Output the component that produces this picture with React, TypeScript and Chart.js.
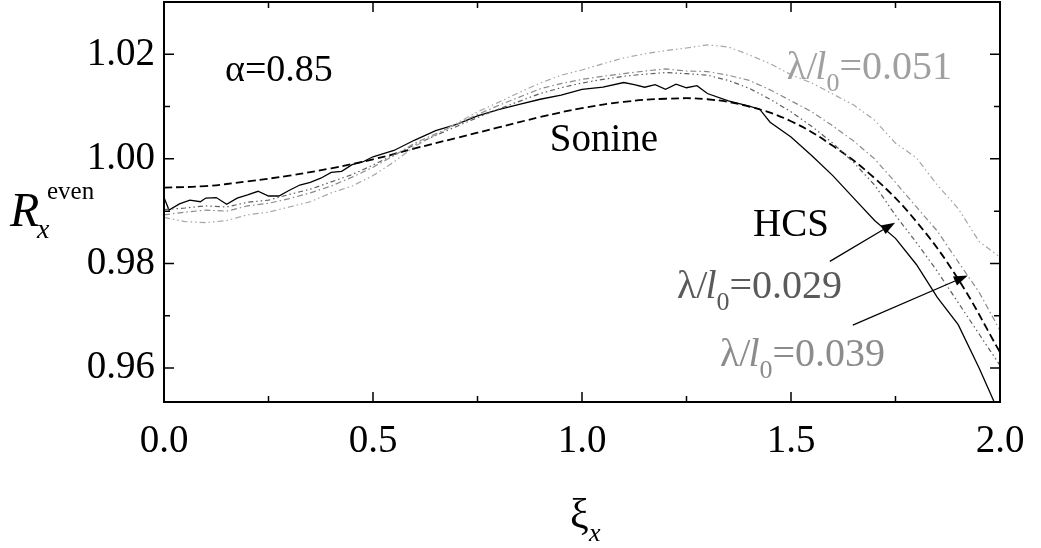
import React, { useEffect, useRef } from 'react';
import { Chart, registerables } from 'chart.js';

Chart.register(...registerables);

const FONT = '"Liberation Serif", "Times New Roman", "DejaVu Serif", serif';

// ---- data ----
const hcsX = [0, 0.012, 0.037, 0.062, 0.087, 0.1, 0.125, 0.15, 0.175, 0.2, 0.225, 0.25, 0.275, 0.3, 0.325, 0.35, 0.375, 0.4, 0.425, 0.45, 0.475, 0.5, 0.55, 0.6, 0.65, 0.7, 0.75, 0.8, 0.85, 0.9, 0.95, 1.0, 1.05, 1.1, 1.125, 1.15, 1.175, 1.2, 1.225, 1.25, 1.275, 1.3, 1.35, 1.4, 1.425, 1.45, 1.5, 1.55, 1.6, 1.65, 1.7, 1.75, 1.8, 1.85, 1.9, 1.95, 1.975, 2.0];
const hcsY = [0.9926, 0.9902, 0.9914, 0.9921, 0.9918, 0.9925, 0.9926, 0.9913, 0.9925, 0.9931, 0.9938, 0.9929, 0.9929, 0.994, 0.995, 0.9955, 0.9963, 0.9974, 0.9976, 0.9989, 0.9994, 1.0004, 1.0016, 1.0036, 1.0054, 1.0066, 1.0082, 1.0094, 1.0104, 1.0114, 1.0122, 1.0133, 1.0137, 1.0146, 1.0142, 1.0137, 1.0142, 1.0133, 1.0143, 1.0136, 1.014, 1.0125, 1.0111, 1.0101, 1.0095, 1.007, 1.0042, 1.0006, 0.9968, 0.9925, 0.9882, 0.9848, 0.9798, 0.9735, 0.9683, 0.96, 0.9555, 0.951];

const sonineX = [0, 0.1, 0.2, 0.3, 0.4, 0.5, 0.6, 0.7, 0.8, 0.9, 1.0, 1.1, 1.2, 1.3, 1.4, 1.5, 1.6, 1.7, 1.8, 1.9, 2.0];
const sonineY = [0.9945, 0.9948, 0.9957, 0.9968, 0.9982, 0.9999, 1.002, 1.004, 1.006, 1.008, 1.0097, 1.0109, 1.0115, 1.0114, 1.01, 1.0072, 1.0025, 0.9963, 0.988, 0.977, 0.963];

const simX = [0, 0.05, 0.1, 0.15, 0.2, 0.25, 0.3, 0.35, 0.4, 0.45, 0.5, 0.55, 0.6, 0.65, 0.7, 0.75, 0.8, 0.85, 0.9, 0.95, 1.0, 1.05, 1.1, 1.15, 1.2, 1.25, 1.3, 1.35, 1.4, 1.45, 1.5, 1.55, 1.6, 1.65, 1.7, 1.75, 1.8, 1.85, 1.9, 1.95, 2.0];
const lam029Y = [0.9903, 0.9906, 0.991, 0.9908, 0.9917, 0.9921, 0.9932, 0.9942, 0.9956, 0.997, 0.9988, 1.0008, 1.0027, 1.0045, 1.0062, 1.0079, 1.0095, 1.011, 1.0125, 1.0136, 1.0145, 1.0152, 1.0158, 1.0162, 1.0165, 1.0163, 1.016, 1.015, 1.0135, 1.0114, 1.009, 1.0062, 1.003, 0.9993, 0.995, 0.9892, 0.984, 0.9785, 0.9725, 0.9665, 0.9605];
const lam039Y = [0.9893, 0.9898, 0.9902, 0.99, 0.991, 0.9915, 0.9924, 0.9935, 0.9948, 0.9965, 0.9984, 1.0006, 1.003, 1.0048, 1.0066, 1.0085, 1.0102, 1.0118, 1.0134, 1.0144, 1.0152, 1.0158, 1.0163, 1.0168, 1.0172, 1.0168, 1.0167, 1.016, 1.015, 1.0132, 1.0111, 1.009, 1.0063, 1.0034, 1.0, 0.9955, 0.9908, 0.9862, 0.9803, 0.9745, 0.9672];
const lam051Y = [0.9888, 0.988, 0.9878, 0.9882, 0.9893, 0.9898, 0.9908, 0.9918, 0.9935, 0.9948, 0.9968, 0.9994, 1.0024, 1.0046, 1.0068, 1.009, 1.0108, 1.0127, 1.0145, 1.016, 1.017, 1.0182, 1.0193, 1.0201, 1.0207, 1.0212, 1.0218, 1.0214, 1.0199, 1.0182, 1.0161, 1.0145, 1.0124, 1.0103, 1.0074, 1.003, 1.0002, 0.995, 0.9905, 0.9842, 0.9812];

const xMajorTicks = [0, 0.5, 1.0, 1.5, 2.0];
const xMinorTicks = [0.25, 0.75, 1.25, 1.75];
const yMajorTicks = [0.96, 0.98, 1.0, 1.02];
const yMinorTicks = [0.97, 0.99, 1.01];

const pts = (xs: number[], ys: number[]) => xs.map((x, i) => ({ x, y: ys[i] }));

function drawLambda(ctx: CanvasRenderingContext2D, x: number, y: number, val: string, color: string, size: number) {
  ctx.fillStyle = color;
  ctx.textAlign = 'left';
  ctx.textBaseline = 'alphabetic';
  let cx = x;
  ctx.font = `${size}px ${FONT}`;
  ctx.fillText('λ/', cx, y);
  cx += ctx.measureText('λ/').width - 2;
  ctx.font = `italic ${size}px ${FONT}`;
  ctx.fillText('l', cx, y);
  cx += ctx.measureText('l').width;
  const sub = Math.round(size * 0.66);
  ctx.font = `${sub}px ${FONT}`;
  ctx.fillText('0', cx, y + size * 0.3);
  cx += ctx.measureText('0').width;
  ctx.font = `${size}px ${FONT}`;
  ctx.fillText('=' + val, cx, y);
}

function arrow(ctx: CanvasRenderingContext2D, x1: number, y1: number, x2: number, y2: number) {
  const ang = Math.atan2(y2 - y1, x2 - x1);
  const hl = 14, hw = 5;
  ctx.strokeStyle = '#000';
  ctx.fillStyle = '#000';
  ctx.lineWidth = 1.3;
  ctx.setLineDash([]);
  ctx.beginPath();
  ctx.moveTo(x1, y1);
  ctx.lineTo(x2 - hl * Math.cos(ang), y2 - hl * Math.sin(ang));
  ctx.stroke();
  ctx.beginPath();
  ctx.moveTo(x2, y2);
  ctx.lineTo(x2 - hl * Math.cos(ang) + hw * Math.sin(ang), y2 - hl * Math.sin(ang) - hw * Math.cos(ang));
  ctx.lineTo(x2 - hl * Math.cos(ang) - hw * Math.sin(ang), y2 - hl * Math.sin(ang) + hw * Math.cos(ang));
  ctx.closePath();
  ctx.fill();
}

const overlay = {
  id: 'overlay',
  afterDraw(chart: any) {
    const { ctx, chartArea: a, scales } = chart;
    const xs = scales.x, ys = scales.y;
    const px = (v: number) => xs.getPixelForValue(v);
    const py = (v: number) => ys.getPixelForValue(v);
    ctx.save();
    ctx.setLineDash([]);
    ctx.strokeStyle = '#000';
    ctx.lineWidth = 1.5;
    const major = 10, minor = 6;
    ctx.beginPath();
    xMajorTicks.forEach((v) => {
      const X = px(v);
      ctx.moveTo(X, a.bottom); ctx.lineTo(X, a.bottom - major);
      ctx.moveTo(X, a.top); ctx.lineTo(X, a.top + major);
    });
    xMinorTicks.forEach((v) => {
      const X = px(v);
      ctx.moveTo(X, a.bottom); ctx.lineTo(X, a.bottom - minor);
      ctx.moveTo(X, a.top); ctx.lineTo(X, a.top + minor);
    });
    yMajorTicks.forEach((v) => {
      const Y = py(v);
      ctx.moveTo(a.left, Y); ctx.lineTo(a.left + major, Y);
      ctx.moveTo(a.right, Y); ctx.lineTo(a.right - major, Y);
    });
    yMinorTicks.forEach((v) => {
      const Y = py(v);
      ctx.moveTo(a.left, Y); ctx.lineTo(a.left + minor, Y);
      ctx.moveTo(a.right, Y); ctx.lineTo(a.right - minor, Y);
    });
    ctx.stroke();
    ctx.lineWidth = 2;
    ctx.strokeRect(a.left, a.top, a.right - a.left, a.bottom - a.top);

    ctx.fillStyle = '#000';
    ctx.textAlign = 'left';
    ctx.textBaseline = 'alphabetic';
    ctx.font = `38px ${FONT}`;
    ctx.fillText('α=0.85', px(0.146), py(1.0149));
    ctx.font = `39px ${FONT}`;
    ctx.fillText('Sonine', px(0.923), py(1.0015));
    ctx.fillText('HCS', px(1.409), py(0.9853));
    drawLambda(ctx, px(1.227), py(0.9733), '0.029', '#5a5a5a', 40);
    drawLambda(ctx, px(1.33), py(0.9604), '0.039', '#8c8c8c', 40);
    drawLambda(ctx, px(1.49), py(1.0152), '0.051', '#a0a0a0', 40);

    arrow(ctx, px(1.593), py(0.9804), px(1.749), py(0.9878));
    arrow(ctx, px(1.648), py(0.9682), px(1.923), py(0.9777));

    ctx.fillStyle = '#000';
    ctx.font = `italic 48px ${FONT}`;
    ctx.fillText('R', 10, 226);
    ctx.font = `italic 28px ${FONT}`;
    ctx.fillText('x', 37, 238);
    ctx.font = `25px ${FONT}`;
    ctx.fillText('even', 47, 199);

    ctx.font = `42px ${FONT}`;
    ctx.fillText('ξ', 570, 528);
    ctx.font = `italic 26px ${FONT}`;
    ctx.fillText('x', 589, 541);
    ctx.restore();
  },
};

export default function App() {
  const ref = useRef<HTMLCanvasElement | null>(null);
  useEffect(() => {
    if (!ref.current) return;
    const chart = new Chart(ref.current, {
      type: 'line',
      data: {
        datasets: [
          {
            label: 'λ/l0=0.051',
            data: pts(simX, lam051Y),
            borderColor: '#a6a6a6',
            borderWidth: 1.2,
            borderDash: [6, 3, 1.5, 3, 1.5, 3],
            pointRadius: 0,
            tension: 0,
          },
          {
            label: 'λ/l0=0.039',
            data: pts(simX, lam039Y),
            borderColor: '#8a8a8a',
            borderWidth: 1.2,
            borderDash: [6, 3, 1.5, 3],
            pointRadius: 0,
            tension: 0,
          },
          {
            label: 'λ/l0=0.029',
            data: pts(simX, lam029Y),
            borderColor: '#5e5e5e',
            borderWidth: 1.2,
            borderDash: [5, 3, 1.5, 3, 1.5, 3],
            pointRadius: 0,
            tension: 0,
          },
          {
            label: 'Sonine',
            data: pts(sonineX, sonineY),
            borderColor: '#000',
            borderWidth: 1.8,
            borderDash: [8, 4],
            pointRadius: 0,
            tension: 0.4,
          },
          {
            label: 'HCS',
            data: pts(hcsX, hcsY),
            borderColor: '#000',
            borderWidth: 1.3,
            pointRadius: 0,
            tension: 0,
          },
        ],
      },
      options: {
        animation: false,
        responsive: false,
        maintainAspectRatio: false,
        layout: { padding: { left: 0, right: 41, top: 2, bottom: 0 } },
        plugins: { legend: { display: false }, tooltip: { enabled: false } },
        scales: {
          x: {
            type: 'linear',
            min: 0,
            max: 2,
            grid: { display: false, drawTicks: false },
            border: { display: false },
            ticks: {
              stepSize: 0.5,
              includeBounds: false,
              maxRotation: 0,
              padding: 16,
              color: '#000',
              font: { family: FONT, size: 39 },
              callback: (v: any) => Number(v).toFixed(1),
            },
            afterFit: (s: any) => {
              s.height = 146;
            },
          },
          y: {
            type: 'linear',
            min: 0.9535,
            max: 1.03,
            grid: { display: false, drawTicks: false },
            border: { display: false },
            ticks: {
              stepSize: 0.02,
              includeBounds: false,
              padding: 9,
              color: '#000',
              font: { family: FONT, size: 39 },
              callback: (v: any) => Number(v).toFixed(2),
            },
            afterFit: (s: any) => {
              s.width = 164;
              s.paddingTop = 0;
              s.paddingBottom = 0;
            },
          },
        },
      },
      plugins: [overlay],
    });
    return () => chart.destroy();
  }, []);
  return (
    <div style={{ position: 'absolute', left: 0, top: 0, width: 1041, height: 548, background: '#fff' }}>
      <canvas ref={ref} width={1041} height={548} style={{ display: 'block' }} />
    </div>
  );
}
